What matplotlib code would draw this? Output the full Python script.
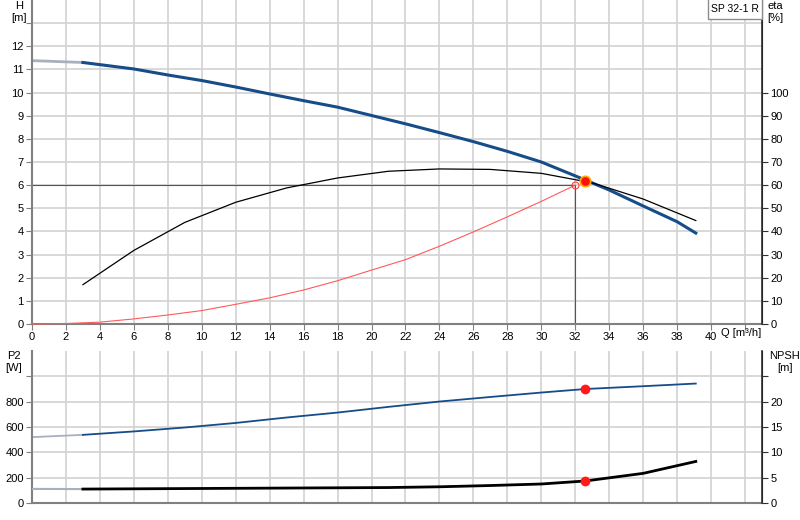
import matplotlib
matplotlib.use("Agg")
import matplotlib.pyplot as plt
from matplotlib.patches import Rectangle

plt.rcParams['font.family'] = ['Liberation Sans', 'DejaVu Sans']
plt.rcParams['font.size'] = 8

# pump curve H(Q)
q_h_ext = [0, 3]
h_ext = [11.38, 11.3]
q_h = [3, 6, 8, 10, 12, 14, 16, 18, 20, 22, 24, 26, 28, 30, 32, 34, 36, 38, 39.1]
h = [11.3, 11.02, 10.76, 10.52, 10.24, 9.94, 9.65, 9.37, 9.01, 8.65, 8.27, 7.88,
     7.46, 7.0, 6.4, 5.79, 5.1, 4.42, 3.93]

# efficiency
q_eta = [3, 6, 9, 12, 15, 18, 21, 24, 27, 30, 33, 36, 39.1]
eta = [17, 31.8, 43.9, 52.6, 58.8, 63.1, 66.0, 67.0, 66.8, 65.1, 61.0, 54.0, 44.7]

# system curve
q_sys = [0, 2, 4, 6, 8, 10, 12, 14, 16, 18, 20, 22, 24, 26, 28, 30, 32]
h_sys = [0, 0.02, 0.08, 0.22, 0.39, 0.58, 0.85, 1.13, 1.47, 1.87, 2.33, 2.78,
         3.36, 3.98, 4.63, 5.3, 6.0]

duty_q, duty_h = 32.6, 6.2
req_q, req_h = 32, 6.0

# power P2
q_p2_ext = [0, 3]
p2_ext = [520, 538]
q_p2 = [3, 6, 9, 12, 15, 18, 21, 24, 27, 30, 32.6, 36, 39.1]
p2 = [538, 565, 596, 632, 675, 714, 759, 801, 837, 872, 900, 922, 943]

# NPSH
q_np_ext = [0, 3]
np_ext = [2.78, 2.75]
q_np = [3, 6, 9, 12, 15, 18, 21, 24, 27, 30, 32.6, 36, 39.1]
npsh = [2.75, 2.8, 2.85, 2.9, 2.95, 3.0, 3.05, 3.2, 3.45, 3.75, 4.35, 5.85, 8.2]
duty_p2, duty_npsh = 900, 4.35

blue = '#164c88'
ext = '#a9b0bd'
grid = '#d2d2d2'
spine = '#808080'

fig = plt.figure(figsize=(8, 5.2), dpi=100)
ax = fig.add_axes([32/800, 1-324/520, 730/800, 324/520])
ax2 = ax.twinx()
bx = fig.add_axes([32/800, 1-503/520, 730/800, 152/520])
bx2 = bx.twinx()

for a in (ax, bx):
    a.set_xlim(0, 43)
    a.set_xticks(range(0, 43, 2))
    a.grid(True, color=grid, lw=1.2)
    a.set_axisbelow(True)
    a.spines['top'].set_visible(False)
    a.spines['left'].set_color(spine)
    a.spines['left'].set_linewidth(1.5)
    a.spines['bottom'].set_color(spine)
    a.spines['bottom'].set_linewidth(1.5)
for a in (ax2, bx2):
    a.spines['top'].set_visible(False)
    a.spines['left'].set_visible(False)
    a.spines['bottom'].set_visible(False)
    a.spines['right'].set_color('#303030')
    a.spines['right'].set_linewidth(1.2)

# top panel
ax.set_ylim(0, 14)
ax.set_yticks(range(0, 14))
ax.set_yticklabels([str(i) for i in range(13)] + [''])
ax.set_xticklabels([str(i) for i in range(0, 41, 2)] + [''])
ax.tick_params(length=4, color=spine, pad=2)
ax2.set_ylim(0, 140)
ax2.set_yticks(range(0, 101, 10))
ax2.tick_params(length=4, color='#303030', pad=2)

ax.plot([0, req_q], [req_h, req_h], color='#555555', lw=0.8)
ax.plot([req_q, req_q], [0, req_h], color='#555555', lw=0.8)
ax.plot(q_sys, h_sys, color='#ff5a5a', lw=0.8, clip_on=False, zorder=5)
ax.plot(q_h_ext, h_ext, color=ext, lw=2)
ax.plot(q_h, h, color=blue, lw=2.2)
ax2.plot(q_eta, eta, color='black', lw=0.9)
ax2.plot(req_q, req_h * 10, 'o', mfc='none', mec='#ff4040', ms=5, mew=0.8)
ax2.plot(duty_q, duty_h * 10, 'o', mfc='#ff1010', mec='#ffaa00', ms=7.5, mew=1.2)

ax.text(40.6, -0.4, 'Q [m³/h]', ha='left', va='center', fontsize=8)
fig.text(19/800, 1-6/520, 'H', ha='center', va='center')
fig.text(19/800, 1-18/520, '[m]', ha='center', va='center')
fig.text(775/800, 1-6/520, 'eta', ha='center', va='center')
fig.text(775/800, 1-18/520, '[%]', ha='center', va='center')
ax2.add_patch(Rectangle((708/800, 1-19/520), 54/800, 19/520 + 0.01,
                        transform=fig.transFigure, fc='white', ec='#8c8c8c',
                        lw=1, clip_on=False, zorder=10))
ax2.text(735/800, 1-9/520, 'SP 32-1 R', transform=fig.transFigure,
         ha='center', va='center', fontsize=7.5, zorder=11)

# bottom panel
bx.set_ylim(0, 1200)
bx.set_yticks(range(0, 1001, 200))
bx.set_yticklabels(['0', '200', '400', '600', '800', ''])
bx.tick_params(axis='y', length=4, color=spine, pad=2)
bx.tick_params(axis='x', length=0, labelbottom=False)
bx2.set_ylim(0, 30)
bx2.set_yticks(range(0, 26, 5))
bx2.set_yticklabels(['0', '5', '10', '15', '20', ''])
bx2.tick_params(length=4, color='#303030', pad=2)

bx.plot(q_p2_ext, p2_ext, color=ext, lw=1.3)
bx.plot(q_p2, p2, color=blue, lw=1.3)
bx.plot(duty_q, duty_p2, 'o', color='#ff1a1a', ms=6)
bx2.plot(q_np_ext, np_ext, color=ext, lw=1.5)
bx2.plot(q_np, npsh, color='black', lw=2)
bx2.plot(duty_q, duty_npsh, 'o', color='#ff1a1a', ms=6)

fig.text(14/800, 1-356/520, 'P2', ha='center', va='center')
fig.text(14/800, 1-368/520, '[W]', ha='center', va='center')
fig.text(785/800, 1-356/520, 'NPSH', ha='center', va='center')
fig.text(785/800, 1-368/520, '[m]', ha='center', va='center')

fig.savefig('out.png', dpi=100)
